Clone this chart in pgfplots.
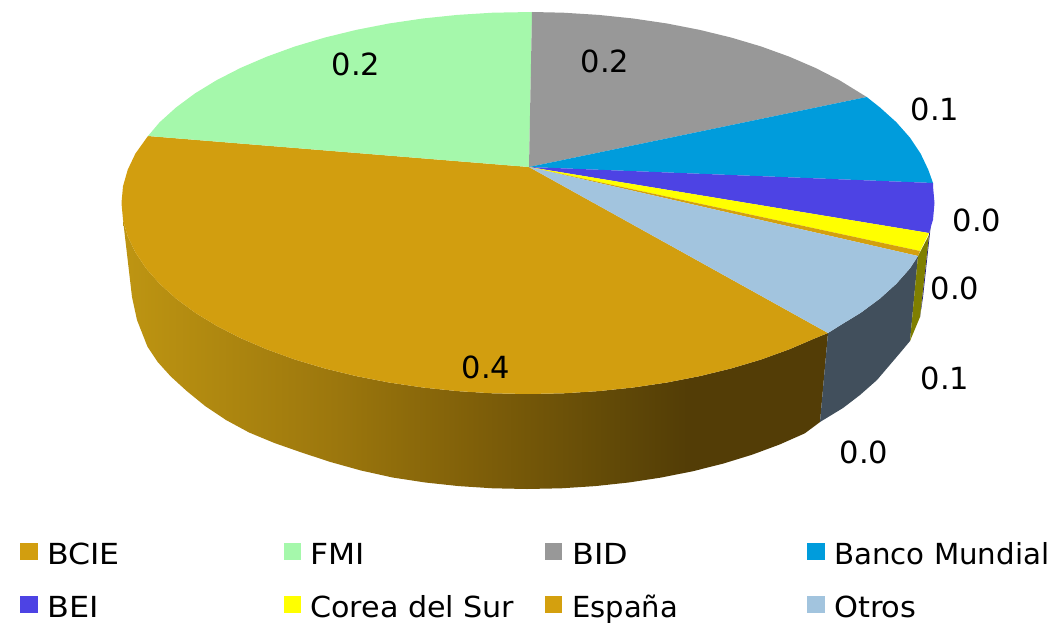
\documentclass[border=0pt]{standalone}
\usepackage{fontspec}
\setmainfont{DejaVu Sans}
\usepackage{graphicx}
\usepackage{pgfplots}
\pgfplotsset{compat=1.18}

\definecolor{cBCIE}{HTML}{D29E0F}
\definecolor{cFMI}{HTML}{A5F8AB}
\definecolor{cBID}{HTML}{989898}
\definecolor{cBM}{HTML}{009CDC}
\definecolor{cBEI}{HTML}{4D43E4}
\definecolor{cCorea}{HTML}{FFFF00}
\definecolor{cEsp}{HTML}{D4A00E}
\definecolor{cOtros}{HTML}{A2C4DE}
\definecolor{sideOtros}{HTML}{414F5C}
\definecolor{sideCorea}{HTML}{7F7F00}
\definecolor{sideBEI}{HTML}{26217A}
\definecolor{sA}{HTML}{BE9512}
\definecolor{sB}{HTML}{9C770D}
\definecolor{sC}{HTML}{7F5F09}
\definecolor{sD}{HTML}{614907}
\definecolor{sE}{HTML}{533D06}

\pgfdeclarehorizontalshading{sideBCIE}{100bp}{
  color(0bp)=(sA); color(25bp)=(sA); color(40bp)=(sB); color(50bp)=(sC);
  color(60bp)=(sD); color(65bp)=(sE); color(100bp)=(sE)}

\newcommand{\lab}[3]{\node[inner sep=0pt,font=\fontsize{30.5bp}{36bp}\selectfont] at (axis cs:#1,#2) {#3};}
% x, y, horizontal stretch, text
\newcommand{\leg}[4]{\node[anchor=base west,inner sep=0pt,font=\fontsize{29bp}{34bp}\selectfont] at (axis cs:#1,#2) {\scalebox{#3}[1]{#4}};}

\begin{document}
\begin{tikzpicture}
\path[use as bounding box] (0,0) rectangle (1053bp,623bp);
\begin{axis}[
  at={(0,0)}, anchor=south west,
  scale only axis, width=1053bp, height=623bp,
  xmin=0, xmax=1053, ymin=0, ymax=623, y dir=reverse,
  hide axis, clip=false
]
% side walls
\addplot[shading=sideBCIE, draw=none, forget plot] coordinates {
  (828,333)(815.4,338.1)(789.3,349.3)(761.2,359.5)(731.3,368.4)(699.8,376.1)(667,382.5)(633.2,387.5)(598.6,391.1)(563.4,393.3)
  (528,394)(492.6,393.3)(457.4,391.1)(422.8,387.5)(389,382.5)(356.2,376.1)(324.7,368.4)(294.8,359.5)(266.7,349.3)(240.6,338.1)
  (216.6,325.8)(195,312.6)(176,298.5)(159.6,283.7)(146,268.3)(135.4,252.4)(127.7,236.2)(123,219.7)
  (132,297)(137,320)(147.4,346.5)(157.7,362)(170.8,376.5)(186.7,391)(205.1,406)(226,420)(249.1,432.5)
  (274.4,443)(301.6,452.5)(330.5,462)(361,470.5)(392.6,477.5)(425.3,482.5)(458.8,486.1)(492.7,488.3)(527,489)
  (561.3,488.3)(595.2,486.1)(628.7,482.5)(661.4,477.5)(693,471.2)(723.5,463.5)(752.4,454.6)(779.6,444.5)(804.9,433.3)(820,422)
} --cycle;
\addplot[fill=sideOtros, draw=none, forget plot] coordinates {
  (918,256)(910,268.3)(896.4,283.7)(880,298.5)(861,312.6)(839.4,325.8)(828,333)
  (820,422)(843,408)(860,395)(877,380)(900,353)(910,341)
} --cycle;
\addplot[fill=sideBEI, draw=none, forget plot] coordinates {
  (933,205)(923,297)(920,317)(929,235)
} --cycle;
\addplot[fill=sideCorea, draw=none, forget plot] coordinates {
  (929,235)(920,317)(910,341)(918,256)
} --cycle;
% top face
\addplot[fill=cBCIE, draw=none, forget plot] coordinates {
  (529,167)(828,333)(815.4,338.1)(789.3,349.3)(761.2,359.5)(731.3,368.4)(699.8,376.1)(667,382.5)(633.2,387.5)(598.6,391.1)(563.4,393.3)
  (528,394)(492.6,393.3)(457.4,391.1)(422.8,387.5)(389,382.5)(356.2,376.1)(324.7,368.4)(294.8,359.5)(266.7,349.3)(240.6,338.1)
  (216.6,325.8)(195,312.6)(176,298.5)(159.6,283.7)(146,268.3)(135.4,252.4)(127.7,236.2)(123,219.7)(121.5,203)
  (123,186.3)(127.7,169.8)(135.4,153.6)(148,136)
} --cycle;
\addplot[fill=cFMI, draw=none, forget plot] coordinates {
  (529,167)(148,136)(159.6,122.3)(176,107.5)(195,93.4)(216.6,80.2)(240.6,67.9)(266.7,56.7)(294.8,46.5)(324.7,37.6)
  (356.2,29.9)(389,23.5)(422.8,18.5)(457.4,14.9)(492.6,12.7)(532,12)
} --cycle;
\addplot[fill=cBID, draw=none, forget plot] coordinates {
  (529,167)(532,12)(563.4,12.7)(598.6,14.9)(633.2,18.5)(667,23.5)(699.8,29.9)(731.3,37.6)(761.2,46.5)(789.3,56.7)(815.4,67.9)(839.4,80.2)(866.7,97)
} --cycle;
\addplot[fill=cBM, draw=none, forget plot] coordinates {
  (529,167)(866.7,97)(880,107.5)(896.4,122.3)(910,137.7)(920.6,153.6)(928.3,169.8)(933,183)
} --cycle;
\addplot[fill=cBEI, draw=none, forget plot] coordinates {
  (529,167)(933,183)(933,186.3)(934.5,203)(933,219.7)(929,233)
} --cycle;
\addplot[fill=cCorea, draw=none, forget plot] coordinates {
  (529,167)(929,233)(920,251)
} --cycle;
\addplot[fill=cEsp, draw=none, forget plot] coordinates {
  (529,167)(920,251)(918,256)
} --cycle;
\addplot[fill=cOtros, draw=none, forget plot] coordinates {
  (529,167)(918,256)(910,268.3)(896.4,283.7)(880,298.5)(861,312.6)(839.4,325.8)(828,333)
} --cycle;
% legend swatches
\addplot[fill=cBCIE, draw=none, forget plot] coordinates {(20,543)(38,543)(38,560)(20,560)} --cycle;
\addplot[fill=cFMI, draw=none, forget plot] coordinates {(284,543)(301,543)(301,560)(284,560)} --cycle;
\addplot[fill=cBID, draw=none, forget plot] coordinates {(545,543)(562,543)(562,560)(545,560)} --cycle;
\addplot[fill=cBM, draw=none, forget plot] coordinates {(807,543)(825,543)(825,560)(807,560)} --cycle;
\addplot[fill=cBEI, draw=none, forget plot] coordinates {(20,596)(38,596)(38,613)(20,613)} --cycle;
\addplot[fill=cCorea, draw=none, forget plot] coordinates {(284,596)(301,596)(301,613)(284,613)} --cycle;
\addplot[fill=cEsp, draw=none, forget plot] coordinates {(545,596)(562,596)(562,613)(545,613)} --cycle;
\addplot[fill=cOtros, draw=none, forget plot] coordinates {(807,596)(825,596)(825,613)(807,613)} --cycle;
% value labels
\lab{356}{64}{0.2}
\lab{605}{61}{0.2}
\lab{935}{109}{0.1}
\lab{977}{220}{0.0}
\lab{955}{288}{0.0}
\lab{945}{378}{0.1}
\lab{864}{452}{0.0}
\lab{486}{367}{0.4}
% legend text
\leg{47}{564}{1.09}{BCIE}
\leg{310}{564}{1.08}{FMI}
\leg{572}{564}{1.1}{BID}
\leg{834}{564}{1.01}{Banco Mundial}
\leg{47}{617}{1.1}{BEI}
\leg{310}{617}{1.04}{Corea del Sur}
\leg{572}{617}{1}{España}
\leg{834}{617}{1.05}{Otros}
\end{axis}
\end{tikzpicture}
\end{document}
